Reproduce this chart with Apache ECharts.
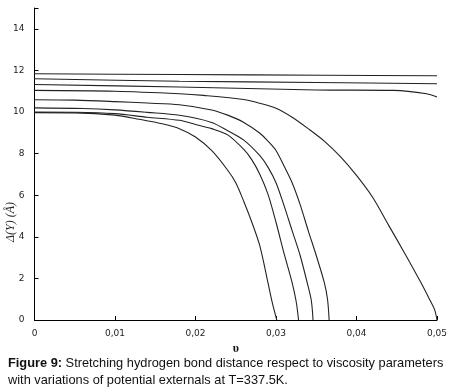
<!DOCTYPE html>
<html>
<head>
<meta charset="utf-8">
<script src="https://cdn.jsdelivr.net/npm/echarts@6/dist/echarts.min.js"></script>
<style>
  html, body { margin: 0; padding: 0; background: #fff; }
  #chart { width: 453px; height: 390px; }
</style>
</head>
<body>
<div id="chart"></div>
<script>
// viscosity parameter (x) and stretching distance (y) for each potential
const topX = [0, 0.018, 0.036, 0.05]
const topY = [11.84, 11.8, 11.77, 11.74]

const secondX = [0, 0.018, 0.035, 0.05]
const secondY = [11.6, 11.48, 11.42, 11.36]

const thirdX = [0, 0.018, 0.035, 0.0446, 0.0487, 0.05]
const thirdY = [11.32, 11.2, 11.06, 11.04, 10.88, 10.72]

const fallE_X = [0, 0.01, 0.018, 0.021, 0.026, 0.028, 0.03, 0.032, 0.034, 0.036, 0.038, 0.04, 0.042, 0.044, 0.046, 0.048, 0.049, 0.0497, 0.05]
const fallE_Y = [11.04, 11.0, 10.88, 10.8, 10.6, 10.42, 10.18, 9.75, 9.2, 8.6, 7.85, 6.95, 5.9, 4.55, 3.2, 1.8, 1.05, 0.5, 0]

const fallD_X = [0, 0.005, 0.01, 0.014, 0.018, 0.022, 0.024, 0.026, 0.028, 0.029, 0.03, 0.031, 0.032, 0.033, 0.034, 0.035, 0.036, 0.0364, 0.0366]
const fallD_Y = [10.59, 10.57, 10.5, 10.43, 10.35, 10.1, 9.85, 9.5, 8.98, 8.6, 8.15, 7.4, 6.6, 5.55, 4.3, 3.1, 1.8, 1.0, 0]

const fallC_X = [0, 0.006, 0.01, 0.014, 0.018, 0.022, 0.024, 0.026, 0.028, 0.029, 0.03, 0.031, 0.032, 0.033, 0.034, 0.0344, 0.0346]
const fallC_Y = [10.2, 10.17, 10.1, 9.98, 9.84, 9.5, 9.1, 8.65, 7.9, 7.35, 6.6, 5.5, 4.3, 3.1, 1.6, 0.9, 0]

const fallB_X = [0, 0.005, 0.01, 0.014, 0.018, 0.02, 0.022, 0.024, 0.026, 0.027, 0.028, 0.029, 0.03, 0.031, 0.032, 0.0325, 0.0328]
const fallB_Y = [10.0, 9.99, 9.92, 9.75, 9.6, 9.4, 9.2, 8.9, 8.2, 7.7, 7.0, 6.05, 4.7, 3.2, 1.8, 0.9, 0]

const fallA_X = [0, 0.005, 0.01, 0.013, 0.016, 0.018, 0.02, 0.022, 0.024, 0.025, 0.026, 0.027, 0.028, 0.029, 0.0295, 0.0301]
const fallA_Y = [9.97, 9.96, 9.85, 9.65, 9.42, 9.2, 8.8, 8.15, 7.2, 6.6, 5.7, 4.7, 3.55, 1.8, 0.9, 0]

const curves = [
  [topX, topY], [secondX, secondY], [thirdX, thirdY],
  [fallE_X, fallE_Y], [fallD_X, fallD_Y], [fallC_X, fallC_Y],
  [fallB_X, fallB_Y], [fallA_X, fallA_Y]
]

const chart = echarts.init(document.getElementById("chart"))

const labelFont = { color: "#222", fontSize: 9, fontFamily: "DejaVu Sans" }

chart.setOption({
  backgroundColor: "#fff",
  animation: false,
  grid: { left: 34.5, right: 16, top: 8, bottom: 70, containLabel: false },
  xAxis: {
    type: "value",
    min: 0,
    max: 0.05,
    interval: 0.01,
    name: "υ",
    nameLocation: "middle",
    nameGap: 22,
    nameTextStyle: { color: "#111", fontSize: 12, fontWeight: "bold", fontFamily: "Liberation Serif" },
    axisLine: { lineStyle: { color: "#000", width: 1 } },
    axisTick: { inside: true, length: 4, lineStyle: { color: "#000" } },
    axisLabel: { ...labelFont, margin: 9, formatter: v => v === 0 ? "0" : v.toFixed(2).replace(".", ",") },
    splitLine: { show: false }
  },
  yAxis: {
    type: "value",
    min: 0,
    max: 15,
    interval: 2,
    axisLine: { show: true, lineStyle: { color: "#000", width: 1 } },
    axisTick: { show: true, inside: true, length: 4, lineStyle: { color: "#000" } },
    axisLabel: { ...labelFont, margin: 10, formatter: v => v > 14 ? "" : String(v) },
    splitLine: { show: false }
  },
  series: curves.map(([xs, ys]) => ({
    type: "line",
    data: xs.map((x, i) => [x, ys[i]]),
    smooth: 0.3,
    showSymbol: false,
    lineStyle: { color: "#222", width: 1.1 }
  })),
  graphic: [
    {
      type: "text",
      x: 11,
      y: 222,
      rotation: Math.PI / 2,
      style: {
        text: "Δ(Y) (Å)",
        fill: "#222",
        font: "italic 12px 'Liberation Serif'",
        align: "center",
        verticalAlign: "middle"
      }
    },
    {
      type: "text",
      x: 8,
      y: 355,
      style: {
        text: "{b|Figure 9:} Stretching hydrogen bond distance respect to viscosity parameters\nwith variations of potential externals at T=337.5K.",
        rich: {
          b: { fontWeight: "bold", fontSize: 12.8, fontFamily: "Liberation Sans", fill: "#111" }
        },
        fontSize: 12.8,
        fontFamily: "Liberation Sans",
        fill: "#111",
        lineHeight: 17
      }
    }
  ]
})
</script>
</body>
</html>
